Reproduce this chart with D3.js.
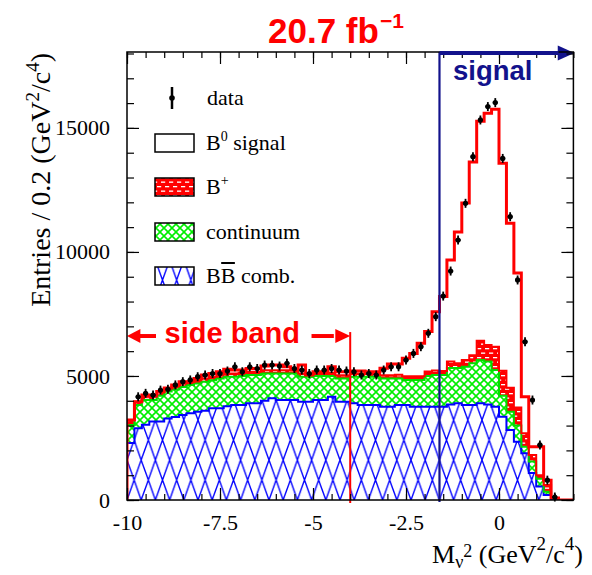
<!DOCTYPE html>
<html><head><meta charset="utf-8">
<script src="https://cdn.jsdelivr.net/npm/d3@7"></script>
<style>body{margin:0;background:#fff}</style>
</head><body>
<svg id="c" width="592" height="575"></svg>
<script>
// ---------- data (bins of 0.2 GeV^2/c^4 from -10 to 2) ----------
const binLow = -10, binWidth = 0.2;
const bbComb = [2300,2890,3030,3160,3160,3290,3350,3430,3500,3560,
  3600,3700,3700,3780,3830,3830,3900,3900,4000,4100,
  4030,4030,4030,3960,3960,4030,4030,4160,3960,3960,
  3900,3830,3830,3830,3760,3760,3830,3830,3760,3760,
  3760,3760,3760,3850,3900,3830,3830,3900,3850,3760,
  3360,2820,2350,1880,1090,540,200,30,0,0];
const continuum = [720,940,1000,870,1040,1080,1100,1130,1140,1140,
  1170,1130,1200,1190,1140,1170,1140,1140,1100,1000,
  1070,1070,1070,1010,1010,970,970,840,940,940,
  1070,1140,1140,1140,1140,1140,1070,1010,1080,1080,
  1240,1280,1280,1470,1420,1540,1680,1740,1730,1480,
  840,740,650,270,460,320,130,50,0,0];
const bPlus = [200,130,130,130,130,130,130,130,130,130,
  130,130,130,130,130,130,130,130,130,130,
  130,130,130,130,70,130,130,130,130,130,
  130,130,130,130,130,130,150,150,150,150,
  180,180,160,260,190,270,330,780,670,940,
  1010,970,730,540,260,140,270,0,0,0];
const fitTotal = [3220,3960,4230,4230,4370,4510,4640,4770,4770,4900,
  5040,5100,5170,5270,5240,5240,5300,5300,5400,5440,
  5440,5370,5240,5440,5040,5170,5170,5370,5170,5170,
  5200,5200,5170,5170,5310,5480,5480,5710,5910,6320,
  6790,7590,8200,9670,10800,11970,13630,15270,15590,15750,
  13580,11160,9150,4160,2150,2150,800,80,0,0];
const dataCounts = [null,4160,4300,4230,4430,4460,4640,4770,4840,4970,
  5040,5100,5100,5200,5370,5170,5370,5300,5440,5440,
  5400,5510,5300,5240,5100,5240,5240,5300,5240,5200,
  5170,5040,5100,5040,5240,5370,5370,5640,5910,6180,
  6720,7390,8220,9230,10480,11960,13840,15320,15860,16020,
  13770,11420,8870,6380,4030,2220,800,120,null,null];

const xTickValues = [-10,-7.5,-5,-2.5,0];
const xTickLabels = ["-10","-7.5","-5","-2.5","0"];
const yTickValues = [0,5000,10000,15000];
const yTickLabels = ["0","5000","10000","15000"];
const sideBand = [-10,-4];
const signalCut = -1.6;
const titleText = "20.7 fb";
const titleSup = "\u22121";

// ---------- scales ----------
const svg = d3.select("#c");
const x = d3.scaleLinear().domain([-10, 2]).range([127, 573.4]);
const y = d3.scaleLinear().domain([0, 18060]).range([500, 52]);
const serif = "'Liberation Serif','DejaVu Serif',serif";
const sans = "'Liberation Sans',Arial,sans-serif";
const navy = "#12128c";

// ---------- patterns ----------
const defs = svg.append("defs");
const pb = defs.append("pattern").attr("id","pBlue").attr("patternUnits","userSpaceOnUse")
  .attr("width",14.2).attr("height",40).attr("x",127).attr("y",500);
pb.append("rect").attr("width",14.2).attr("height",40).attr("fill","#fff");
pb.append("path").attr("d","M0,0L14.2,40M14.2,0L0,40M-0.5,-1.4L0.5,1.4M13.7,-1.4L14.7,1.4")
  .attr("stroke","#0000ff").attr("stroke-width",1.4).attr("fill","none");
const pg = defs.append("pattern").attr("id","pGreen").attr("patternUnits","userSpaceOnUse")
  .attr("width",8).attr("height",8);
pg.append("rect").attr("width",8).attr("height",8).attr("fill","#fff");
pg.append("path").attr("d","M-1,-1L9,9M9,-1L-1,9").attr("stroke","#00ee00").attr("stroke-width",1.6).attr("fill","none");
const pr = defs.append("pattern").attr("id","pRed").attr("patternUnits","userSpaceOnUse")
  .attr("width",8).attr("height",9);
pr.append("rect").attr("width",8).attr("height",9).attr("fill","#ff0000");
[[1,1.5],[5,6],[-3,6]].forEach(([a,b])=>pr.append("rect").attr("x",a).attr("y",b)
  .attr("width",4.2).attr("height",1.3).attr("fill","#fff"));

defs.append("clipPath").attr("id","plotClip").append("rect")
  .attr("x",127).attr("y",52).attr("width",446.4).attr("height",448);

// ---------- stacked histograms ----------
const rows = bbComb.map((v,i)=>({i, bb:v, cont:continuum[i], bplus:bPlus[i]}));
const stack = d3.stack().keys(["bb","cont","bplus"])(rows);
const edges = i => [binLow + i*binWidth, binLow + (i+1)*binWidth];

function stepPoints(series){
  const pts = [];
  series.forEach((s,i)=>{ const [a,b]=edges(i); pts.push({x:a,lo:s[0],hi:s[1]},{x:b,lo:s[0],hi:s[1]}); });
  return pts;
}
const area = d3.area().x(d=>x(d.x)).y0(d=>y(d.lo)).y1(d=>y(d.hi));
const topLine = d3.line().x(d=>x(d.x)).y(d=>y(d.hi));

const plot = svg.append("g").attr("clip-path","url(#plotClip)");
const fills = ["url(#pBlue)","url(#pGreen)","url(#pRed)"];
const strokes = ["#0000ff","#00dd00","#ff0000"];
stack.forEach((s,k)=>{
  const pts = stepPoints(s);
  plot.append("path").attr("d",area(pts)).attr("fill",fills[k]);
});
stack.forEach((s,k)=>{
  const pts = stepPoints(s);
  plot.append("path").attr("d",topLine(pts)).attr("fill","none")
    .attr("stroke",strokes[k]).attr("stroke-width",2);
});

// total fit line
const totPts = [{x:-10,hi:0}];
fitTotal.forEach((v,i)=>{ const [a,b]=edges(i); totPts.push({x:a,hi:v},{x:b,hi:v}); });
totPts.push({x:2,hi:0});
plot.append("path").attr("d",topLine(totPts)).attr("fill","none")
  .attr("stroke","#ff0000").attr("stroke-width",3).attr("stroke-linejoin","miter");

// ---------- data points ----------
const dpts = dataCounts.map((v,i)=>({c: binLow+(i+0.5)*binWidth, v})).filter(d=>d.v!==null);
const dg = svg.append("g");
dpts.forEach(d=>{
  const cy = y(d.v);
  const e = Math.max(4.5, y(d.v - Math.sqrt(d.v)) - cy);
  dg.append("line").attr("x1",x(d.c)).attr("x2",x(d.c)).attr("y1",cy-e).attr("y2",cy+e)
    .attr("stroke","#000").attr("stroke-width",1.8);
  dg.append("line").attr("x1",x(d.c)-2.5).attr("x2",x(d.c)+2.5).attr("y1",cy).attr("y2",cy)
    .attr("stroke","#000").attr("stroke-width",1.8);
  dg.append("circle").attr("cx",x(d.c)).attr("cy",cy).attr("r",2.6).attr("fill","#000");
});

// ---------- cut lines & annotations ----------
svg.append("line").attr("x1",x(sideBand[1])).attr("x2",x(sideBand[1]))
  .attr("y1",y(6770)).attr("y2",503).attr("stroke","#ff0000").attr("stroke-width",2);
svg.append("line").attr("x1",x(signalCut)).attr("x2",x(signalCut))
  .attr("y1",y(18060)).attr("y2",502).attr("stroke",navy).attr("stroke-width",2.2);

// signal arrow along the top
svg.append("path").attr("d",`M${x(1.58)},45.5L${x(2)+1},53L${x(1.58)},60.5Z`).attr("fill",navy);
svg.append("text").attr("x",453).attr("y",80).attr("font-family",sans).attr("font-weight","bold")
  .attr("font-size",27.5).attr("fill",navy).text("signal");

// side band arrows
const ay = y(6610);
svg.append("line").attr("x1",x(-9.68)).attr("x2",x(-9.22)).attr("y1",ay).attr("y2",ay)
  .attr("stroke","#ff0000").attr("stroke-width",4);
svg.append("path").attr("d",`M${x(-10)},${ay}L${x(-9.64)},${ay-7}L${x(-9.64)},${ay+7}Z`).attr("fill","#ff0000");
svg.append("line").attr("x1",x(-5.04)).attr("x2",x(-4.44)).attr("y1",ay).attr("y2",ay)
  .attr("stroke","#ff0000").attr("stroke-width",4);
svg.append("path").attr("d",`M${x(-4)},${ay}L${x(-4.4)},${ay-7}L${x(-4.4)},${ay+7}Z`).attr("fill","#ff0000");
svg.append("text").attr("x",x(-7.17)).attr("y",343).attr("text-anchor","middle")
  .attr("font-family",sans).attr("font-weight","bold").attr("font-size",29).attr("fill","#ff0000")
  .text("side band");

// title
const tt = svg.append("text").attr("x",268).attr("y",43).attr("font-family",sans)
  .attr("font-weight","bold").attr("font-size",35).attr("fill","#ff0000");
tt.append("tspan").text(titleText);
tt.append("tspan").attr("dx",1).attr("dy",-15).attr("font-size",21).text(titleSup);

// ---------- axes ----------
const minorY = d3.range(0, 18001, 1000);
const minorX = d3.range(-10, 2.01, 0.5);
function styleAxis(g){ g.select(".domain").remove(); g.selectAll(".tick line").attr("stroke","#000").attr("stroke-width",1.2); }
svg.append("g").attr("transform","translate(127,0)")
  .call(d3.axisLeft(y).tickValues(minorY).tickSize(-7).tickFormat("")).call(styleAxis);
svg.append("g").attr("transform","translate(127,0)")
  .call(d3.axisLeft(y).tickValues(yTickValues).tickSize(-12).tickPadding(17)
    .tickFormat((d,i)=>yTickLabels[i])).call(styleAxis)
  .selectAll("text").attr("font-family",serif).attr("font-size",22).attr("fill","#000");
svg.append("g").attr("transform","translate(573.4,0)")
  .call(d3.axisRight(y).tickValues(minorY).tickSize(-7).tickFormat("")).call(styleAxis);
svg.append("g").attr("transform","translate(573.4,0)")
  .call(d3.axisRight(y).tickValues(yTickValues).tickSize(-12).tickFormat("")).call(styleAxis);
svg.append("g").attr("transform","translate(0,500)")
  .call(d3.axisBottom(x).tickValues(minorX).tickSize(-6).tickFormat("")).call(styleAxis);
svg.append("g").attr("transform","translate(0,500)")
  .call(d3.axisBottom(x).tickValues(xTickValues).tickSize(-12).tickPadding(14)
    .tickFormat((d,i)=>xTickLabels[i])).call(styleAxis)
  .selectAll("text").attr("font-family",serif).attr("font-size",22).attr("fill","#000");
svg.append("g").attr("transform","translate(0,52)")
  .call(d3.axisTop(x).tickValues(minorX).tickSize(-6).tickFormat("")).call(styleAxis);
svg.append("g").attr("transform","translate(0,52)")
  .call(d3.axisTop(x).tickValues(xTickValues).tickSize(-12).tickFormat("")).call(styleAxis);
svg.append("rect").attr("x",127).attr("y",52).attr("width",446.4).attr("height",448)
  .attr("fill","none").attr("stroke","#000").attr("stroke-width",1.5);
// signal arrow shaft over the frame top
svg.append("line").attr("x1",x(signalCut)).attr("x2",x(1.6)).attr("y1",53).attr("y2",53)
  .attr("stroke",navy).attr("stroke-width",4);

// axis titles
const yt = svg.append("text").attr("transform","translate(50,53) rotate(-90)")
  .attr("text-anchor","end").attr("font-family",serif).attr("font-size",28).attr("fill","#000");
yt.append("tspan").text("Entries / 0.2 (GeV");
yt.append("tspan").attr("dy",-11).attr("font-size",19).text("2");
yt.append("tspan").attr("dy",11).text("/c");
yt.append("tspan").attr("dy",-11).attr("font-size",19).text("4");
yt.append("tspan").attr("dy",11).text(")");

const xt = svg.append("text").attr("x",583).attr("y",563).attr("text-anchor","end")
  .attr("font-family",serif).attr("font-size",26).attr("fill","#000");
xt.append("tspan").text("M");
xt.append("tspan").attr("dy",5).attr("font-size",18).text("\u03bd");
xt.append("tspan").attr("dy",-11).attr("font-size",18).text("2");
xt.append("tspan").attr("dy",6).text(" (GeV");
xt.append("tspan").attr("dy",-13).attr("font-size",19).text("2");
xt.append("tspan").attr("dy",13).text("/c");
xt.append("tspan").attr("dy",-13).attr("font-size",19).text("4");
xt.append("tspan").attr("dy",13).text(")");

// ---------- legend ----------
const lg = svg.append("g").attr("font-family",serif).attr("font-size",22).attr("fill","#000");
lg.append("line").attr("x1",172).attr("x2",172).attr("y1",87).attr("y2",109).attr("stroke","#000").attr("stroke-width",2.5);
lg.append("circle").attr("cx",172).attr("cy",98).attr("r",2.8).attr("fill","#000");
lg.append("text").attr("x",207).attr("y",105).text("data");
const boxes = [{cy:143, fill:"#fff"},{cy:187, fill:"url(#pRed)"},{cy:232, fill:"url(#pGreen)"},{cy:276, fill:"url(#pBlue)"}];
boxes.forEach(b=>lg.append("rect").attr("x",155).attr("y",b.cy-9).attr("width",39).attr("height",18)
  .attr("fill",b.fill).attr("stroke","#000").attr("stroke-width",1.5));
const t1 = lg.append("text").attr("x",206).attr("y",150);
t1.append("tspan").text("B");
t1.append("tspan").attr("dy",-9).attr("font-size",14).text("0");
t1.append("tspan").attr("dy",9).text(" signal");
const t2 = lg.append("text").attr("x",206).attr("y",194);
t2.append("tspan").text("B");
t2.append("tspan").attr("dy",-9).attr("font-size",14).text("+");
lg.append("text").attr("x",206).attr("y",239).text("continuum");
const t4 = lg.append("text").attr("x",206).attr("y",283);
t4.append("tspan").text("B");
t4.append("tspan").text("B");
t4.append("tspan").text(" comb.");
// overline on the second B
const bW = t4.node().getSubStringLength(0,1);
lg.append("line").attr("x1",206+bW+0.5).attr("x2",206+2*bW-0.5).attr("y1",263).attr("y2",263)
  .attr("stroke","#000").attr("stroke-width",2);
</script>
</body></html>
